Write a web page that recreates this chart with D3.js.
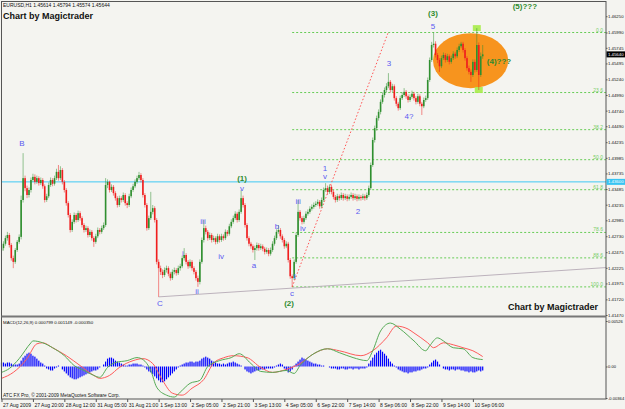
<!DOCTYPE html>
<html>
<head>
<meta charset="utf-8">
<script src="https://cdnjs.cloudflare.com/ajax/libs/d3/7.8.5/d3.min.js"></script>
<style>
html, body { margin: 0; padding: 0; background: #f4f4f0; }
#chart { width: 625px; height: 409px; }
text { font-family: "Liberation Sans", Arial, sans-serif; }
</style>
</head>
<body>
<div id="chart"></div>
<script>
/* EURUSD H1 prices, in pips (price * 10000), one value per hourly bar */
const firstOpenPips = 14250;
const closePips = [
  14254,14261,14270,14275,14259,14238,14232,14251,14264,14272,
  14331,14366,14350,14339,14347,14363,14368,14360,14366,14358,
  14363,14353,14331,14337,14355,14363,14357,14366,14376,14366,
  14379,14360,14347,14326,14307,14283,14296,14307,14299,14310,
  14302,14291,14283,14286,14275,14280,14270,14264,14273,14283,
  14280,14286,14291,14355,14360,14347,14352,14342,14334,14323,
  14334,14331,14339,14326,14323,14337,14347,14353,14360,14366,
  14371,14363,14339,14323,14286,14302,14312,14318,14299,14232,
  14222,14216,14211,14219,14222,14213,14206,14216,14219,14214,
  14222,14225,14238,14243,14232,14225,14232,14222,14216,14206,
  14200,14232,14267,14286,14280,14270,14275,14267,14270,14264,
  14273,14267,14273,14270,14280,14277,14289,14296,14302,14309,
  14299,14312,14334,14323,14291,14270,14261,14257,14251,14254,
  14259,14254,14257,14253,14248,14251,14245,14251,14261,14270,
  14280,14283,14273,14267,14257,14261,14235,14209,14206,14232,
  14275,14312,14302,14296,14302,14309,14312,14317,14320,14323,
  14325,14328,14321,14331,14347,14350,14344,14352,14344,14336,
  14331,14337,14334,14339,14334,14337,14333,14336,14339,14334,
  14337,14333,14336,14334,14337,14334,14339,14350,14387,14427,
  14446,14462,14472,14488,14499,14507,14513,14520,14507,14513,
  14494,14485,14478,14494,14499,14504,14497,14491,14496,14501,
  14494,14488,14497,14485,14481,14491,14494,14523,14555,14579,
  14581,14563,14555,14545,14558,14563,14555,14561,14552,14558,
  14565,14561,14571,14577,14581,14571,14558,14542,14536,14531,
  14552,14539,14579,14531,14561,14564
];
const highPips = [
  14262,14265,14274,14280,14278,14262,14242,14254,14267,14276,
  14338,14406,14370,14354,14351,14367,14373,14372,14370,14369,
  14367,14366,14356,14341,14359,14367,14366,14370,14381,14387,
  14385,14382,14363,14350,14329,14310,14300,14311,14310,14314,
  14313,14305,14294,14290,14289,14284,14283,14273,14277,14287,
  14286,14290,14295,14366,14364,14362,14356,14355,14345,14337,
  14338,14337,14343,14342,14329,14341,14351,14357,14364,14370,
  14376,14374,14366,14342,14326,14306,14344,14323,14321,14302,
  14236,14226,14220,14223,14226,14225,14216,14220,14223,14222,
  14226,14229,14242,14254,14246,14235,14236,14235,14225,14219,
  14210,14236,14271,14299,14290,14283,14279,14278,14274,14273,
  14277,14276,14277,14276,14284,14283,14293,14300,14306,14313,
  14312,14316,14347,14338,14326,14294,14273,14264,14260,14258,
  14263,14262,14261,14260,14256,14255,14254,14255,14265,14274,
  14284,14291,14286,14276,14270,14265,14264,14238,14212,14236,
  14279,14331,14315,14305,14306,14313,14316,14321,14324,14327,
  14329,14332,14331,14335,14351,14358,14354,14356,14355,14347,
  14339,14341,14340,14343,14342,14341,14340,14340,14343,14342,
  14341,14340,14340,14339,14341,14340,14343,14354,14391,14431,
  14450,14466,14476,14492,14503,14511,14518,14534,14523,14517,
  14516,14497,14488,14498,14503,14510,14507,14500,14500,14506,
  14504,14497,14501,14500,14488,14495,14498,14527,14559,14584,
  14599,14585,14566,14558,14562,14567,14566,14565,14564,14562,
  14569,14568,14575,14581,14584,14584,14574,14561,14546,14540,
  14556,14556,14606,14583,14567,14579
];
const lowPips = [
  14246,14250,14258,14266,14255,14234,14222,14229,14248,14261,
  14268,14327,14345,14334,14335,14343,14360,14356,14357,14354,
  14355,14349,14327,14328,14334,14352,14353,14354,14363,14362,
  14363,14356,14343,14322,14303,14279,14280,14293,14295,14296,
  14298,14287,14279,14280,14271,14272,14266,14256,14261,14270,
  14276,14277,14283,14288,14350,14343,14344,14338,14330,14319,
  14320,14327,14328,14322,14318,14320,14334,14344,14350,14357,
  14363,14359,14335,14319,14282,14283,14299,14308,14295,14228,
  14176,14211,14206,14208,14215,14209,14202,14203,14212,14210,
  14211,14218,14222,14234,14228,14221,14222,14218,14212,14202,
  14192,14196,14229,14263,14276,14266,14267,14263,14264,14260,
  14261,14263,14264,14266,14267,14273,14274,14286,14293,14299,
  14295,14296,14309,14319,14287,14266,14257,14253,14247,14235,
  14250,14250,14251,14249,14244,14245,14241,14242,14248,14258,
  14267,14277,14269,14263,14253,14254,14231,14205,14192,14203,
  14229,14272,14298,14292,14293,14299,14306,14309,14314,14317,
  14320,14322,14317,14318,14328,14344,14340,14341,14340,14332,
  14327,14328,14330,14331,14330,14331,14329,14330,14333,14330,
  14331,14329,14330,14330,14331,14330,14331,14336,14347,14384,
  14423,14442,14458,14468,14485,14495,14503,14510,14503,14504,
  14490,14481,14474,14475,14491,14496,14493,14487,14488,14493,
  14490,14484,14485,14481,14467,14478,14488,14491,14520,14552,
  14575,14559,14550,14536,14542,14555,14551,14552,14548,14549,
  14555,14557,14558,14568,14574,14567,14554,14538,14532,14520,
  14528,14535,14536,14507,14528,14557
];

/* MACD(12,26,9), values in units of 0.00001 */
const macdHist = [
  46,46,34,46,46,34, 23,23,23,34, 68,103,125, 148,160,148, 125,114,91, 68,46,34, 11,
  -23,-34,-46,-46, -23,-11,11,0, -34,-57,-80,-103,-125,-137, -148,-148,-137,-125,
  -114,-103,-91,-80,-68,-57,-46,-46,-34,-11, 0,23, 57,91,103,103,91, 68,57,46,34,23,
  11,11,23,23, 34,34,34,23,23,11, -11, -34,-57,-68,-91,-114, -137,-160,-182,-182,-171,-148,
  -125,-103,-80,-57,-34,-11, 11,23,34,46, 46,57,57,46,57,57,68, 91,103,114,103,91,
  68,57,46,34,34, 23,34,23,34,46,46,57,46,34,23, 11,0, -34,-57,-68,-80,-68,-57,-46,
  -46,-34,-34,-34,-23,-23,-23,-23,-11, 11,23,34,23, -23,-46,-68,-57,-34, 11,34,
  57,80,103,91,80, 68,57,46,34,34, 23,23,11,11,0,0,
  -11,-23,-23,-23,-34,-34,-23,-23,-34,-34,-23,-23,-34,-23,-23,-34,-23,-23,-23,-11,
  34,68,103, 137,160,182,194,171, 148,125,91,57,34, 11,-11,
  -34,-46,-57,-68,-68,-80,-68,-68,-57, -57,-46,-46,-34,-23,-23,-11, 23,46,68,80,57, 23,0,
  -23,-34,-34,-46,-34,-34,-46,-34,-34,-46,-46,-57, -57,-68,-57,-68,-68,-57,-46,-57,-46
];
const macdMain = [[0,-68],[4,-23],[9,91],[15,274],[16,296],[21,274],[26,217],[32,125],[37,11],
  [42,-46],[47,-103],[50,-125],[54,-11],[58,46],[64,68],[69,103],[72,80],[76,-46],[79,-239],
  [84,-331],[88,-353],[91,-296],[96,-194],[101,-160],[105,0],[111,68],[117,103],[121,148],
  [127,34],[132,-57],[138,-68],[145,-46],[149,-80],[152,11],[159,148],[166,205],[172,160],
  [179,103],[186,68],[189,182],[193,410],[198,502],[203,433],[210,296],[216,182],[218,239],
  [222,331],[225,296],[230,217],[235,205],[240,103],[245,80]];
const macdSignal = [[0,-137],[6,-68],[13,91],[18,262],[21,274],[26,217],[33,125],[40,11],
  [47,-103],[50,-137],[55,-103],[60,-11],[67,68],[72,91],[77,34],[82,-160],[87,-308],
  [92,-331],[97,-251],[103,-150],[108,40],[113,100],[118,125],[125,103],[132,-11],[138,-68],
  [145,-34],[152,34],[159,148],[166,205],[172,182],[183,125],[189,182],[196,331],[201,467],
  [207,433],[210,388],[217,274],[220,217],[225,274],[230,251],[235,217],[240,182],[245,115]];

const priceTicks = [1.46250,1.45990,1.45745,1.45495,1.45240,1.44990,1.44740,1.44490,1.44235,
  1.43985,1.43735,1.43485,1.43235,1.42985,1.42730,1.42475,1.42225,1.41975,1.41720,1.41470];
const macdTicks = [526, 0, -364];
const macdTickLabels = ["0.00526", "0.00", "-0.00364"];
const timeLabels = ["27 Aug 2009","27 Aug 20:00","28 Aug 12:00","31 Aug 05:00","31 Aug 21:00",
  "1 Sep 13:00","2 Sep 05:00","2 Sep 21:00","3 Sep 13:00","4 Sep 05:00","6 Sep 22:00",
  "7 Sep 14:00","8 Sep 06:00","8 Sep 22:00","9 Sep 14:00","10 Sep 06:00"];
const timeLabelBars = [0,16,32,48,64,80,96,112,128,144,160,176,192,208,224,240];

/* drawn objects: fibonacci, lines, ellipse, wave labels */
const fibLevels = [0, 23.6, 38.2, 50, 61.8, 78.6, 88.6, 100];
const fibFrom = { bar: 148, price: 1.4192 };
const fibTo = { bar: 220, price: 1.4599 };
const cyanLevel = 1.4360;
const trendLine = [[80, 1.4176], [148, 1.4190]];
const redRay = [[148, 1.4192], [197, 1.4600]];
const ellipseBox = { bar0: 219.7, bar1: 258, p0: 1.4510, p1: 1.4598 };
const squareMarks = [[242, 1.4606], [243, 1.4507]];
const blueLabels = [
  ["B",10.4,1.4421],["C",80.7,1.4165],["i",92.4,1.4246],["ii",99.5,1.4184],["iii",102.6,1.4296],
  ["iv",111.8,1.4241],["v",122.5,1.4349],["a",128.6,1.4227],["b",140.3,1.4289],["c",147.9,1.4182],
  ["i",149.4,1.4208],["iii",151,1.4328],["iv",153.5,1.4285],["v",164.7,1.4368],["1",164.7,1.4381],
  ["2",181.5,1.4312],["3",197.3,1.4549],["4?",207.5,1.4465],["5",219.7,1.4608]];
const greenLabels = [
  ["(1)",122.5,1.4366],["(2)",146.4,1.4166],["(3)",219.7,1.4629],
  ["(4)???",253.3,1.4552],["(5)???",266.5,1.4640]];

const width = 625, height = 409;
const frame = { left: 1.5, right: 606, top: 1.5, sep: 316.5, bottom: 399 };
const axisFont = "4.3px";

const svg = d3.select("#chart").append("svg")
  .attr("width", width).attr("height", height);
svg.append("rect").attr("width", width).attr("height", height).attr("fill", "#f4f4f0");

const bars = closePips.map((c, i) => ({
  i: i,
  o: (i ? closePips[i - 1] : firstOpenPips) / 1e4,
  h: highPips[i] / 1e4,
  l: lowPips[i] / 1e4,
  c: c / 1e4
}));

const x = d3.scaleLinear().domain([0, 245]).range([1.5, 482.7]);
const y = d3.scaleLinear().domain([1.4147, 1.4625]).range([315, 16.25]);
const my = d3.scaleLinear().domain([-364, 526]).range([398, 321]);

svg.append("clipPath").attr("id", "mainClip").append("rect")
  .attr("x", frame.left).attr("y", frame.top)
  .attr("width", frame.right - frame.left).attr("height", frame.sep - frame.top - 1);
const main = svg.append("g").attr("clip-path", "url(#mainClip)");

// orange ellipse behind the candles
main.append("ellipse")
  .attr("cx", (x(ellipseBox.bar0) + x(ellipseBox.bar1)) / 2)
  .attr("cy", (y(ellipseBox.p0) + y(ellipseBox.p1)) / 2)
  .attr("rx", (x(ellipseBox.bar1) - x(ellipseBox.bar0)) / 2)
  .attr("ry", (y(ellipseBox.p0) - y(ellipseBox.p1)) / 2)
  .attr("fill", "#f7941e");

// cyan horizontal line
main.append("line")
  .attr("x1", frame.left).attr("x2", frame.right)
  .attr("y1", y(cyanLevel)).attr("y2", y(cyanLevel))
  .attr("stroke", "#3fc8f4").attr("stroke-width", 1);

// fibonacci retracement
const fibRange = fibTo.price - fibFrom.price;
fibLevels.forEach(lv => {
  const p = fibTo.price - fibRange * lv / 100;
  main.append("line")
    .attr("x1", x(fibFrom.bar)).attr("x2", frame.right)
    .attr("y1", y(p)).attr("y2", y(p))
    .attr("stroke", "#66cc55").attr("stroke-width", 1)
    .attr("stroke-dasharray", "2,2");
  main.append("text")
    .attr("x", 603).attr("y", y(p) - 1)
    .attr("text-anchor", "end")
    .attr("font-size", "5px")
    .attr("fill", "#77cc66")
    .text(d3.format(".1f")(lv));
});

// grey trend line, extended to the right edge
const tSlope = (trendLine[1][1] - trendLine[0][1]) / (trendLine[1][0] - trendLine[0][0]);
const lastBar = x.invert(frame.right);
main.append("line")
  .attr("x1", x(trendLine[0][0])).attr("y1", y(trendLine[0][1]))
  .attr("x2", x(lastBar)).attr("y2", y(trendLine[0][1] + tSlope * (lastBar - trendLine[0][0])))
  .attr("stroke", "#bcb2bc").attr("stroke-width", 1);

// red dotted line
main.append("line")
  .attr("x1", x(redRay[0][0])).attr("y1", y(redRay[0][1]))
  .attr("x2", x(redRay[1][0])).attr("y2", y(redRay[1][1]))
  .attr("stroke", "#ff5555").attr("stroke-width", 1)
  .attr("stroke-dasharray", "1.5,2");

// green square markers
main.selectAll(".sq").data(squareMarks).join("rect")
  .attr("class", "sq")
  .attr("x", d => x(d[0]) - 4).attr("y", d => y(d[1]) - 3)
  .attr("width", 8).attr("height", 6)
  .attr("fill", "#a8ec4a").attr("opacity", 0.9);

// candles
const upCol = "#2f8f2f", downCol = "#f01e1e";
const candle = main.selectAll(".candle").data(bars).join("g").attr("class", "candle");
candle.append("line")
  .attr("x1", d => x(d.i)).attr("x2", d => x(d.i))
  .attr("y1", d => y(d.h)).attr("y2", d => y(d.l))
  .attr("stroke", d => d.c >= d.o ? upCol : downCol)
  .attr("stroke-opacity", 0.5).attr("stroke-width", 1);
candle.append("rect")
  .attr("x", d => x(d.i) - 0.8).attr("width", 1.6)
  .attr("y", d => y(Math.max(d.o, d.c)))
  .attr("height", d => Math.max(1, Math.abs(y(d.o) - y(d.c))))
  .attr("fill", d => d.c >= d.o ? upCol : downCol);

// wave labels
main.selectAll(".blab").data(blueLabels).join("text")
  .attr("class", "blab")
  .attr("x", d => x(d[1])).attr("y", d => y(d[2]))
  .attr("text-anchor", "middle").attr("dominant-baseline", "central")
  .attr("font-size", "8px").attr("fill", "#5a5af0")
  .text(d => d[0]);
main.selectAll(".glab").data(greenLabels).join("text")
  .attr("class", "glab")
  .attr("x", d => x(d[1])).attr("y", d => y(d[2]))
  .attr("text-anchor", "middle").attr("dominant-baseline", "central")
  .attr("font-size", "8px").attr("font-weight", "bold").attr("fill", "#2e8b2e")
  .text(d => d[0]);

// titles
svg.append("text").attr("x", 3).attr("y", 7).attr("font-size", "5px").attr("fill", "#111")
  .text("EURUSD,H1  1.45614 1.45794 1.45574 1.45644");
svg.append("text").attr("x", 3).attr("y", 18.5).attr("font-size", "9px")
  .attr("font-weight", "bold").attr("fill", "#111").text("Chart by Magictrader");
svg.append("text").attr("x", 598).attr("y", 309.5).attr("font-size", "9px")
  .attr("text-anchor", "end")
  .attr("font-weight", "bold").attr("fill", "#111").text("Chart by Magictrader");

// MACD panel
svg.append("g").selectAll("rect").data(macdHist).join("rect")
  .attr("x", (d, i) => x(i) - 0.6).attr("width", 1.2)
  .attr("y", d => Math.min(my(d), my(0)))
  .attr("height", d => Math.abs(my(d) - my(0)))
  .attr("fill", "#0000ff");
const mline = d3.line().x(d => x(d[0])).y(d => my(d[1])).curve(d3.curveMonotoneX);
svg.append("path").datum(macdSignal).attr("d", mline)
  .attr("fill", "none").attr("stroke", "#ff5a5a").attr("stroke-width", 1);
svg.append("path").datum(macdMain).attr("d", mline)
  .attr("fill", "none").attr("stroke", "#55aa55").attr("stroke-width", 1);
svg.append("text").attr("x", 3).attr("y", 323.5).attr("font-size", "4.4px").attr("fill", "#111")
  .text("MACD(12,26,9) 0.000799 0.001149 -0.000350");
svg.append("text").attr("x", 3).attr("y", 397).attr("font-size", "4.8px").attr("fill", "#111")
  .text("ATC FX Pro, \u00a9 2001-2009 MetaQuotes Software Corp.");

// frame
svg.append("rect")
  .attr("x", frame.left).attr("y", frame.top)
  .attr("width", frame.right - frame.left).attr("height", frame.bottom - frame.top)
  .attr("fill", "none").attr("stroke", "#555").attr("stroke-width", 1);
svg.append("line")
  .attr("x1", frame.left).attr("x2", frame.right)
  .attr("y1", frame.sep).attr("y2", frame.sep)
  .attr("stroke", "#777").attr("stroke-width", 2);

// price axis
const yAxis = svg.append("g")
  .attr("transform", `translate(${frame.right},0)`)
  .call(d3.axisRight(y).tickValues(priceTicks).tickSize(1.5).tickPadding(0.5)
    .tickFormat(d3.format(".5f")));
yAxis.select(".domain").remove();
yAxis.selectAll("text").attr("font-size", axisFont).attr("fill", "#111");
yAxis.selectAll("line").attr("stroke", "#555");

// price tags
function tag(price, bg, fg) {
  svg.append("rect").attr("x", frame.right + 0.5).attr("y", y(price) - 3)
    .attr("width", 18.5).attr("height", 6).attr("fill", bg);
  svg.append("text").attr("x", frame.right + 2).attr("y", y(price) + 1.6)
    .attr("font-size", axisFont).attr("fill", fg).text(d3.format(".5f")(price));
}
tag(cyanLevel, "#38c4f2", "#fff");
tag(bars[bars.length - 1].c, "#000", "#fff");

// macd axis
const mAxis = svg.append("g")
  .attr("transform", `translate(${frame.right},0)`)
  .call(d3.axisRight(my).tickValues(macdTicks).tickSize(1.5).tickPadding(0.5)
    .tickFormat((d, k) => macdTickLabels[k]));
mAxis.select(".domain").remove();
mAxis.selectAll("text").attr("font-size", "4.1px").attr("fill", "#111");
mAxis.selectAll("line").attr("stroke", "#555");

// time axis
const xAxis = svg.append("g")
  .attr("transform", `translate(0,${frame.bottom})`)
  .call(d3.axisBottom(x).tickValues(timeLabelBars).tickSize(3).tickPadding(1)
    .tickFormat((d, k) => timeLabels[k]));
xAxis.select(".domain").remove();
xAxis.selectAll("text").attr("font-size", "5px").attr("fill", "#111")
  .attr("text-anchor", "start").attr("x", 1);
xAxis.selectAll("line").attr("stroke", "#555");
</script>
</body>
</html>
